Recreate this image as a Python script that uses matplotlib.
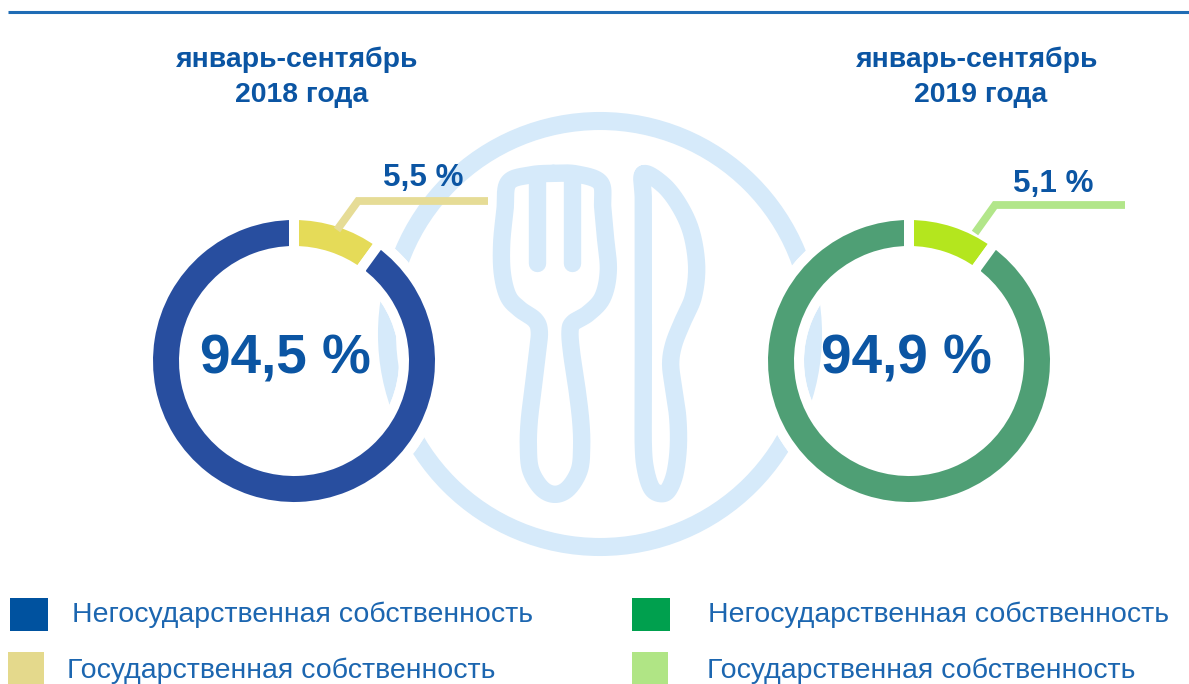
import numpy as np
import matplotlib
matplotlib.use("Agg")
import matplotlib.pyplot as plt
from matplotlib.patches import Circle, Rectangle

W, H = 1189, 684
plt.rcParams['font.family'] = ['Liberation Sans', 'DejaVu Sans']

# chart values
period_months = ["январь-сентябрь", "январь-сентябрь"]
period_years = ["2018 года", "2019 года"]
private_labels = ["94,5 %", "94,9 %"]
state_labels = ["5,5 %", "5,1 %"]
legend_private = "Негосударственная собственность"
legend_state = "Государственная собственность"
# the small slice is drawn wider than its value in the original (about 36 degrees)
state_arc = [10, 10]
private_arc = [90, 90]

BLUE_TEXT = "#0B55A3"
PLATE = "#D6EAFA"
ring_colors = [("#E5DB58", "#284E9F"), ("#B4E61E", "#4F9F75")]
leader_colors = ["#E6DC96", "#B2E68A"]
legend_colors = [("#00529F", "#E4D98C"), ("#00A04E", "#B0E585")]


def py(y):
    # y given from the top of the picture, like in the reference
    return H - np.asarray(y, dtype=float)


def smooth(points, n=24):
    """Closed or open Catmull-Rom curve through points given in zoom crop coords"""
    pts = np.array(points, dtype=float)
    closed = np.allclose(pts[0], pts[-1])
    if closed:
        pts = np.vstack([pts[-2], pts, pts[1]])
    else:
        pts = np.vstack([pts[0], pts, pts[-1]])
    out = []
    for i in range(1, len(pts) - 2):
        p0, p1, p2, p3 = pts[i - 1], pts[i], pts[i + 1], pts[i + 2]
        for t in np.linspace(0, 1, n):
            out.append(0.5 * (2 * p1 + (p2 - p0) * t
                              + (2 * p0 - 5 * p1 + 4 * p2 - p3) * t ** 2
                              + (3 * p1 - p0 - 3 * p2 + p3) * t ** 3))
    out = np.array(out)
    return 380 + out[:, 0] / 3, py(100 + out[:, 1] / 3)


fig = plt.figure(figsize=(W / 100, H / 100), dpi=100)
ax = fig.add_axes([0, 0, 1, 1])

# background plate, fork and knife
ax.add_patch(Circle((600, py(334)), 213, fill=False, ec=PLATE, lw=13, zorder=0.5))

fork = [(520, 220), (590, 222), (661, 248), (668, 320), (675, 400), (685, 510), (668, 592),
        (625, 640), (580, 668), (570, 695), (575, 760), (590, 860), (602, 960), (605, 1040),
        (598, 1110), (565, 1165), (525, 1183), (485, 1165), (452, 1110), (445, 1040),
        (448, 960), (460, 860), (472, 760), (478, 695), (465, 660), (420, 628), (385, 590),
        (367, 520), (365, 430), (375, 330), (385, 248), (450, 225), (520, 220)]
knife = [(790, 222), (850, 255), (900, 320), (935, 400), (950, 500), (940, 590), (910, 660),
         (882, 730), (872, 790), (880, 860), (893, 950), (895, 1040), (885, 1120), (865, 1170),
         (842, 1181), (815, 1165), (797, 1110), (790, 1040), (790, 900), (790, 750), (790, 600),
         (790, 450), (790, 300), (790, 222)]
tines = [[(470, 240), (470, 490)], [(577, 240), (577, 490)]]
for shape in [fork, knife] + tines:
    xs, ys = smooth(shape)
    ax.plot(xs, ys, color=PLATE, lw=12.5, solid_capstyle='round',
            solid_joinstyle='round', zorder=0.6)

# donut rings, the wedge edge makes the white gaps
centers = [294, 909]
for i, cx in enumerate(centers):
    ax.pie([1], colors=["white"], center=(cx, py(361)), radius=151,
           wedgeprops=dict(width=46, linewidth=0), frame=False)
    ax.pie([state_arc[i], private_arc[i]], colors=ring_colors[i], center=(cx, py(361)),
           radius=146, startangle=90, counterclock=False,
           wedgeprops=dict(width=36, edgecolor="white", linewidth=7.2), frame=False)

# leader lines
leaders = [([337, 358, 488], [230, 201, 201]), ([975, 995, 1125], [233, 205, 205])]
for (lx, ly), c in zip(leaders, leader_colors):
    ax.plot(lx, py(ly), color=c, lw=5.6, solid_capstyle='butt', solid_joinstyle='miter', zorder=3)

# texts
for x, txt in zip([297, 977], period_months):
    ax.text(x, py(60), txt, color=BLUE_TEXT, fontsize=20.4, fontweight='bold',
            ha='center', va='center', zorder=4)
for x, txt in zip([301.5, 981], period_years):
    ax.text(x, py(95), txt, color=BLUE_TEXT, fontsize=20.4, fontweight='bold',
            ha='center', va='center', zorder=4)
for x, txt in zip([285.5, 906], private_labels):
    ax.text(x, py(359), txt, color=BLUE_TEXT, fontsize=39.5, fontweight='bold',
            ha='center', va='center', zorder=4)
for x, y, txt in zip([423, 1053], [178, 184], state_labels):
    ax.text(x, py(y), txt, color=BLUE_TEXT, fontsize=22.6, fontweight='bold',
            ha='center', va='center', zorder=4)

# top rule
ax.plot([8, W], py([12, 12]), color="#1F6CB5", lw=2.2, solid_capstyle='butt')

# legend
squares = [(10, 598, 38, 33, 0, 0), (8, 652, 36, 32, 0, 1),
           (632, 598, 38, 33, 1, 0), (632, 652, 36, 32, 1, 1)]
for x, y, w, h, col, row in squares:
    ax.add_patch(Rectangle((x, py(y + h)), w, h, fc=legend_colors[col][row], ec='none', zorder=2))
for x, y, txt in [(72, 615, legend_private), (67, 671, legend_state),
                  (708, 615, legend_private), (707, 671, legend_state)]:
    ax.text(x, py(y), txt, color="#1C66B0", fontsize=20.5, ha='left', va='center')

ax.set_xlim(0, W)
ax.set_ylim(0, H)
ax.set_aspect('auto')
ax.axis('off')

fig.savefig("out.png", dpi=100, facecolor="white")
